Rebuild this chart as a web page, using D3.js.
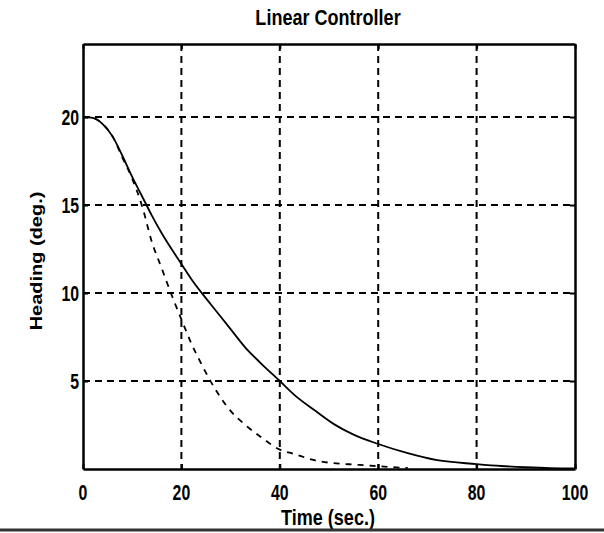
<!DOCTYPE html>
<html>
<head>
<meta charset="utf-8">
<script src="https://cdn.jsdelivr.net/npm/d3@7/dist/d3.min.js"></script>
<style>
  html, body { margin: 0; padding: 0; background: #fff; }
  svg { display: block; }
  text { font-family: "Liberation Sans", Arial, sans-serif; fill: #000; font-weight: bold; }
</style>
</head>
<body>
<svg id="chart" width="604" height="533"></svg>
<script>
// ---- data ----
const title = "Linear Controller";
const xLabel = "Time (sec.)";
const yLabel = "Heading (deg.)";
const xTicks = [0, 20, 40, 60, 80, 100];
const yTicks = [5, 10, 15, 20];
const xDomain = [0, 100];
const yDomain = [0, 24.15];

// solid curve
const solidT = [0, 2, 4, 6, 8, 10, 12, 14, 16, 18, 20, 22, 24, 26, 28, 30, 33, 36, 40, 43, 47, 51, 55, 60, 66, 72, 80, 85, 90, 95, 100];
const solidY = [20, 19.95, 19.6, 18.9, 17.8, 16.6, 15.5, 14.4, 13.4, 12.5, 11.65, 10.8, 10.05, 9.35, 8.65, 7.95, 6.9, 6.05, 5.0, 4.2, 3.35, 2.55, 1.95, 1.42, 0.9, 0.5, 0.28, 0.17, 0.1, 0.05, 0.03];

// dashed curve
const dashT = [0, 2, 4, 6, 8, 10, 12, 14, 16, 18, 20, 22, 24, 26, 28, 30, 33, 36, 40, 43, 47, 50, 54, 58, 62, 66];
const dashY = [20, 19.95, 19.6, 18.9, 17.7, 16.5, 14.95, 12.9, 11.4, 9.9, 8.5, 7.15, 6.0, 4.95, 4.05, 3.3, 2.5, 1.85, 1.1, 0.85, 0.5, 0.36, 0.27, 0.2, 0.12, 0.06];

// ---- layout ----
const L = 83, R = 575, T = 44, B = 469;
const svg = d3.select("#chart");
const x = d3.scaleLinear().domain(xDomain).range([L, R]);
const y = d3.scaleLinear().domain(yDomain).range([B, T]);

// gridlines
const grid = svg.append("g")
  .attr("stroke", "#000").attr("stroke-width", 2).attr("stroke-dasharray", "7,5");
grid.selectAll("line.vx").data(xTicks.filter(d => d > xDomain[0] && d < xDomain[1]))
  .enter().append("line")
  .attr("x1", d => x(d)).attr("x2", d => x(d)).attr("y1", T).attr("y2", B);
grid.selectAll("line.hy").data(yTicks)
  .enter().append("line")
  .attr("y1", d => y(d)).attr("y2", d => y(d)).attr("x1", L).attr("x2", R);

// axes with inward ticks
const axB = svg.append("g").attr("transform", `translate(0,${B})`)
  .call(d3.axisBottom(x).tickValues(xTicks).tickSize(-5).tickSizeOuter(0).tickFormat(""));
const axT = svg.append("g").attr("transform", `translate(0,${T})`)
  .call(d3.axisTop(x).tickValues(xTicks).tickSize(-5).tickSizeOuter(0).tickFormat(""));
const axL = svg.append("g").attr("transform", `translate(${L},0)`)
  .call(d3.axisLeft(y).tickValues(yTicks).tickSize(-5).tickSizeOuter(0).tickFormat(""));
const axR = svg.append("g").attr("transform", `translate(${R},0)`)
  .call(d3.axisRight(y).tickValues(yTicks).tickSize(-5).tickSizeOuter(0).tickFormat(""));
[axB, axT, axL, axR].forEach(a => {
  a.selectAll("path").attr("stroke", "#000").attr("stroke-width", 2.5);
  a.selectAll("line").attr("stroke", "#000").attr("stroke-width", 2);
});

// curves
const line = d3.line().x(d => x(d[0])).y(d => y(d[1])).curve(d3.curveMonotoneX);
svg.append("path")
  .datum(solidT.map((t, i) => [t, solidY[i]]))
  .attr("d", line).attr("fill", "none").attr("stroke", "#000").attr("stroke-width", 1.8);
svg.append("path")
  .datum(dashT.map((t, i) => [t, dashY[i]]))
  .attr("d", line).attr("fill", "none").attr("stroke", "#000").attr("stroke-width", 1.8)
  .attr("stroke-dasharray", "6,6");

// tick labels (horizontally condensed)
const sxT = 0.72, sx = 0.82;
svg.selectAll("text.xt").data(xTicks).enter().append("text")
  .attr("transform", d => `translate(${x(d)},500) scale(${sxT},1)`)
  .attr("text-anchor", "middle").attr("font-size", 22).text(d => d);
svg.selectAll("text.yt").data(yTicks).enter().append("text")
  .attr("transform", d => `translate(79,${y(d) + 8}) scale(${sxT},1)`)
  .attr("text-anchor", "end").attr("font-size", 22).text(d => d);

// title and labels
svg.append("text")
  .attr("transform", `translate(328,25) scale(${sx},1)`)
  .attr("text-anchor", "middle").attr("font-size", 22).text(title);
svg.append("text")
  .attr("transform", `translate(328,525) scale(${sx},1)`)
  .attr("text-anchor", "middle").attr("font-size", 22).text(xLabel);
svg.append("text")
  .attr("transform", `translate(42,261) rotate(-90) scale(1,${sx})`)
  .attr("text-anchor", "middle").attr("font-size", 20).text(yLabel);

// bottom border line of the scanned figure
svg.append("line")
  .attr("x1", 0).attr("x2", 604).attr("y1", 530).attr("y2", 530)
  .attr("stroke", "#333").attr("stroke-width", 3);
</script>
</body>
</html>
